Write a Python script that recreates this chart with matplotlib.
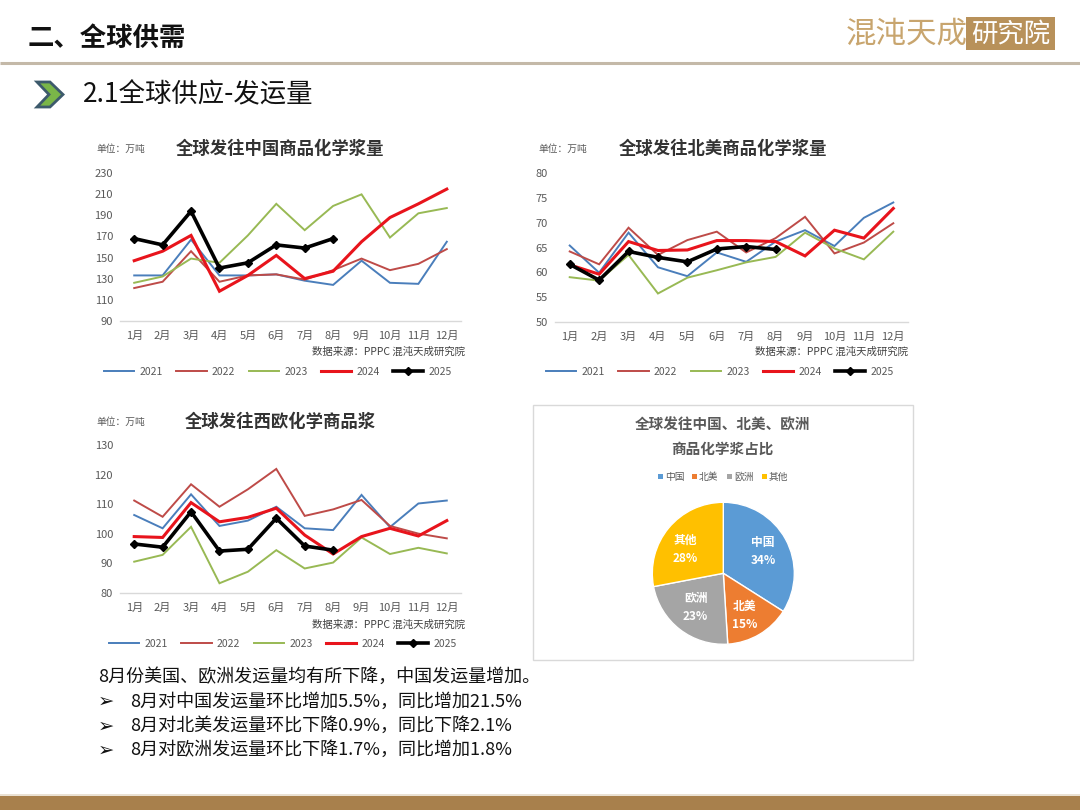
import matplotlib
matplotlib.use("Agg")
import matplotlib.pyplot as plt
from matplotlib.patches import Rectangle, Polygon
from matplotlib.lines import Line2D

plt.rcParams['font.family'] = ['Noto Sans CJK SC', 'DejaVu Sans']

# ---------------- data ----------------
months = ["1月", "2月", "3月", "4月", "5月", "6月", "7月", "8月", "9月", "10月", "11月", "12月"]
years = ["2021", "2022", "2023", "2024", "2025"]

china_2021 = [133, 133, 167, 133, 133, 134, 128, 124, 147, 126, 125, 165]
china_2022 = [121, 127, 156, 127, 133, 134, 129, 138, 149, 138, 144, 158]
china_2023 = [126, 132, 149, 145, 171, 201, 176, 199, 210, 169, 192, 197]
china_2024 = [147, 156, 171, 118, 133, 152, 130, 137, 165, 188, 201, 215]
china_2025 = [168, 162, 194, 140, 145, 162, 159, 168]

na_2021 = [65.4, 59.9, 68.0, 61.0, 59.2, 64.0, 62.1, 66.2, 68.5, 65.3, 71.0, 74.1]
na_2022 = [64.2, 61.6, 69.0, 63.5, 66.5, 68.2, 64.0, 66.9, 71.2, 63.8, 66.0, 69.9]
na_2023 = [59.0, 58.3, 63.5, 55.7, 58.9, 60.4, 62.0, 63.1, 68.0, 64.8, 62.6, 68.2]
na_2024 = [61.5, 59.6, 66.2, 64.4, 64.5, 66.4, 66.4, 66.2, 63.3, 68.5, 66.9, 72.9]
na_2025 = [61.6, 58.4, 64.2, 63.0, 62.1, 64.7, 65.2, 64.6]

eu_2021 = [106.3, 101.8, 113.3, 102.6, 104.4, 109.1, 101.8, 101.2, 113.1, 102.2, 110.2, 111.2]
eu_2022 = [111.2, 105.7, 116.7, 109.1, 115.0, 121.9, 106.0, 108.2, 111.4, 102.6, 100.0, 98.4]
eu_2023 = [90.5, 92.8, 102.3, 83.2, 87.1, 94.4, 88.2, 90.2, 98.7, 93.1, 95.2, 93.3]
eu_2024 = [99.0, 98.7, 110.5, 104.0, 105.5, 108.6, 99.5, 93.1, 99.0, 101.8, 99.2, 104.4]
eu_2025 = [96.5, 95.4, 107.4, 94.1, 94.7, 105.2, 95.8, 94.4]

pie_labels = ["中国", "北美", "欧洲", "其他"]
pie_values = [34, 15, 23, 28]

# ---------------- styles ----------------
W, H = 1080, 810
year_colors = ["#4a7ebb", "#be4b48", "#98b954", "#e8141c", "#000000"]
year_lw = [1.4, 1.4, 1.4, 2.2, 2.6]
pie_colors = ["#5b9bd5", "#ed7d31", "#a5a5a5", "#ffc000"]
gray_txt = "#595959"

fig = plt.figure(figsize=(W / 100, H / 100), dpi=100)
fig.patch.set_facecolor("white")

# overlay axes in pixel coordinates
ov = fig.add_axes([0, 0, 1, 1])
ov.set_xlim(0, W)
ov.set_ylim(H, 0)
ov.axis("off")


def px_axes(x0, y0, x1, y1):
    return fig.add_axes([x0 / W, 1 - y1 / H, (x1 - x0) / W, (y1 - y0) / H])


# ---------------- header ----------------
ov.text(28, 38, "二、全球供需", fontsize=19, fontweight="bold", va="center", ha="left", color="#111111")
ov.plot([0, W], [63, 63], color="#c4b9a8", lw=2.2, solid_capstyle="butt")
# logo
ov.text(846, 34, "混沌天成", fontsize=22, color="#c8a56e", va="center", ha="left", fontweight="light")
ov.add_patch(Rectangle((966, 17), 89, 33, facecolor="#b8915a", edgecolor="none"))
ov.text(1010.5, 34, "研究院", fontsize=19, color="white", va="center", ha="center", fontweight="light")

# chevron
ov.add_patch(Polygon([(37, 82), (50, 82), (63, 94.5), (50, 107), (37, 107), (49, 94.5)],
                     closed=True, facecolor="#7ab648", edgecolor="#3d5a6c", lw=2))
ov.text(83, 95, "2.1全球供应-发运量", fontsize=19, fontweight="medium", va="center", ha="left", color="#111111")

# bottom bar
ov.add_patch(Rectangle((0, 796), W, 14, facecolor="#a8804c", edgecolor="none"))
ov.plot([0, W], [794.5, 794.5], color="#e6dccb", lw=1.2)


# ---------------- line charts ----------------
def line_chart(rect, series, ylim, step, title, title_x, title_y, unit_x, src_x, src_y, leg_x, leg_y):
    ax = px_axes(*rect)
    x = list(range(1, 13))
    for i, s in enumerate(series):
        kw = {}
        if i == 4:
            kw = dict(marker="D", markersize=4.5, markerfacecolor="black", markeredgecolor="black")
        ax.plot(x[:len(s)], s, color=year_colors[i], lw=year_lw[i], label=years[i],
                solid_joinstyle="miter", **kw)
    ax.set_xlim(0.5, 12.5)
    ax.set_ylim(*ylim)
    yt = list(range(ylim[0], ylim[1] + 1, step))
    ax.set_yticks(yt)
    ax.set_yticklabels([str(v) for v in yt], fontsize=8, color=gray_txt)
    ax.set_xticks(x)
    ax.set_xticklabels(months, fontsize=8, color=gray_txt)
    for sp in ["top", "right", "left"]:
        ax.spines[sp].set_visible(False)
    ax.spines["bottom"].set_color("#d9d9d9")
    ax.spines["bottom"].set_linewidth(1)
    ax.tick_params(axis="both", length=0)
    ax.tick_params(axis="y", pad=5)
    ax.tick_params(axis="x", pad=7)
    ax.patch.set_alpha(0)
    ov.text(title_x, title_y, title, fontsize=12.5, fontweight="bold", ha="center", va="center", color="#333333")
    ov.text(unit_x, title_y, "单位：万吨", fontsize=7, ha="left", va="center", color=gray_txt)
    ov.text(src_x, src_y, "数据来源：PPPC 混沌天成研究院", fontsize=7.5, ha="right", va="center", color="#404040")
    handles = []
    for i in range(5):
        if i == 4:
            handles.append(Line2D([0], [0], color="black", lw=2.6, marker="D", markersize=4.5))
        else:
            handles.append(Line2D([0], [0], color=year_colors[i], lw=year_lw[i]))
    fig.legend(handles, years, loc="center", bbox_to_anchor=(leg_x / W, 1 - leg_y / H), ncol=5,
               frameon=False, fontsize=7.5, handlelength=2.9, handletextpad=0.5, columnspacing=1.3,
               labelcolor=gray_txt)
    return ax


line_chart((120, 173.3, 461, 320.7),
           [china_2021, china_2022, china_2023, china_2024, china_2025],
           (90, 230), 20, "全球发往中国商品化学浆量", 280, 149, 96, 465, 352, 278, 372)

line_chart((555, 173.3, 908, 321.7),
           [na_2021, na_2022, na_2023, na_2024, na_2025],
           (50, 80), 5, "全球发往北美商品化学浆量", 723, 149, 538, 908, 352, 720, 372)

line_chart((120, 445, 461, 592.7),
           [eu_2021, eu_2022, eu_2023, eu_2024, eu_2025],
           (80, 130), 10, "全球发往西欧化学商品浆", 280, 422, 96, 465, 625, 283, 644)

# ---------------- pie panel ----------------
ov.add_patch(Rectangle((533, 405), 380, 255, facecolor="white", edgecolor="#d9d9d9", lw=1))
ov.text(722.5, 425, "全球发往中国、北美、欧洲", fontsize=10.5, fontweight="bold", ha="center", va="center", color=gray_txt)
ov.text(722.5, 449, "商品化学浆占比", fontsize=10.5, fontweight="bold", ha="center", va="center", color=gray_txt)
leg_pos = [658, 692, 727, 762]
for lx, lab, col in zip(leg_pos, pie_labels, pie_colors):
    ov.add_patch(Rectangle((lx, 474), 5, 5, facecolor=col, edgecolor="none"))
    ov.text(lx + 7, 477, lab, fontsize=7, ha="left", va="center", color=gray_txt)

R = 71
cx, cy = 723.3, 573.3
pax = px_axes(cx - R, cy - R, cx + R, cy + R)
pax.pie(pie_values, colors=pie_colors, startangle=90, counterclock=False, radius=1,
        wedgeprops=dict(edgecolor="white", linewidth=1))
pax.set_xlim(-1, 1)
pax.set_ylim(-1, 1)
pax.set_aspect("auto")
pax.axis("off")
label_pos = [(0.56, 0.31), (0.30, -0.59), (-0.39, -0.48), (-0.54, 0.34)]
for (lx, ly), lab, v in zip(label_pos, pie_labels, pie_values):
    pax.text(lx, ly, f"{lab}\n{v}%", ha="center", va="center", color="white", fontsize=8.5,
             fontweight="bold", linespacing=1.5)

# ---------------- bottom text ----------------
ov.text(98, 677, "8月份美国、欧洲发运量均有所下降，中国发运量增加。", fontsize=13, ha="left", va="center", color="#111111")
bullets = ["8月对中国发运量环比增加5.5%，同比增加21.5%",
           "8月对北美发运量环比下降0.9%，同比下降2.1%",
           "8月对欧洲发运量环比下降1.7%，同比增加1.8%"]
for i, b in enumerate(bullets):
    yy = 701.5 + i * 24.3
    ov.text(98, yy, "➢", fontsize=14, fontweight="bold", ha="left", va="center", color="#111111",
            family=["DejaVu Sans"])
    ov.text(130, yy, b, fontsize=13, ha="left", va="center", color="#111111")

fig.savefig("out.png", dpi=100)
